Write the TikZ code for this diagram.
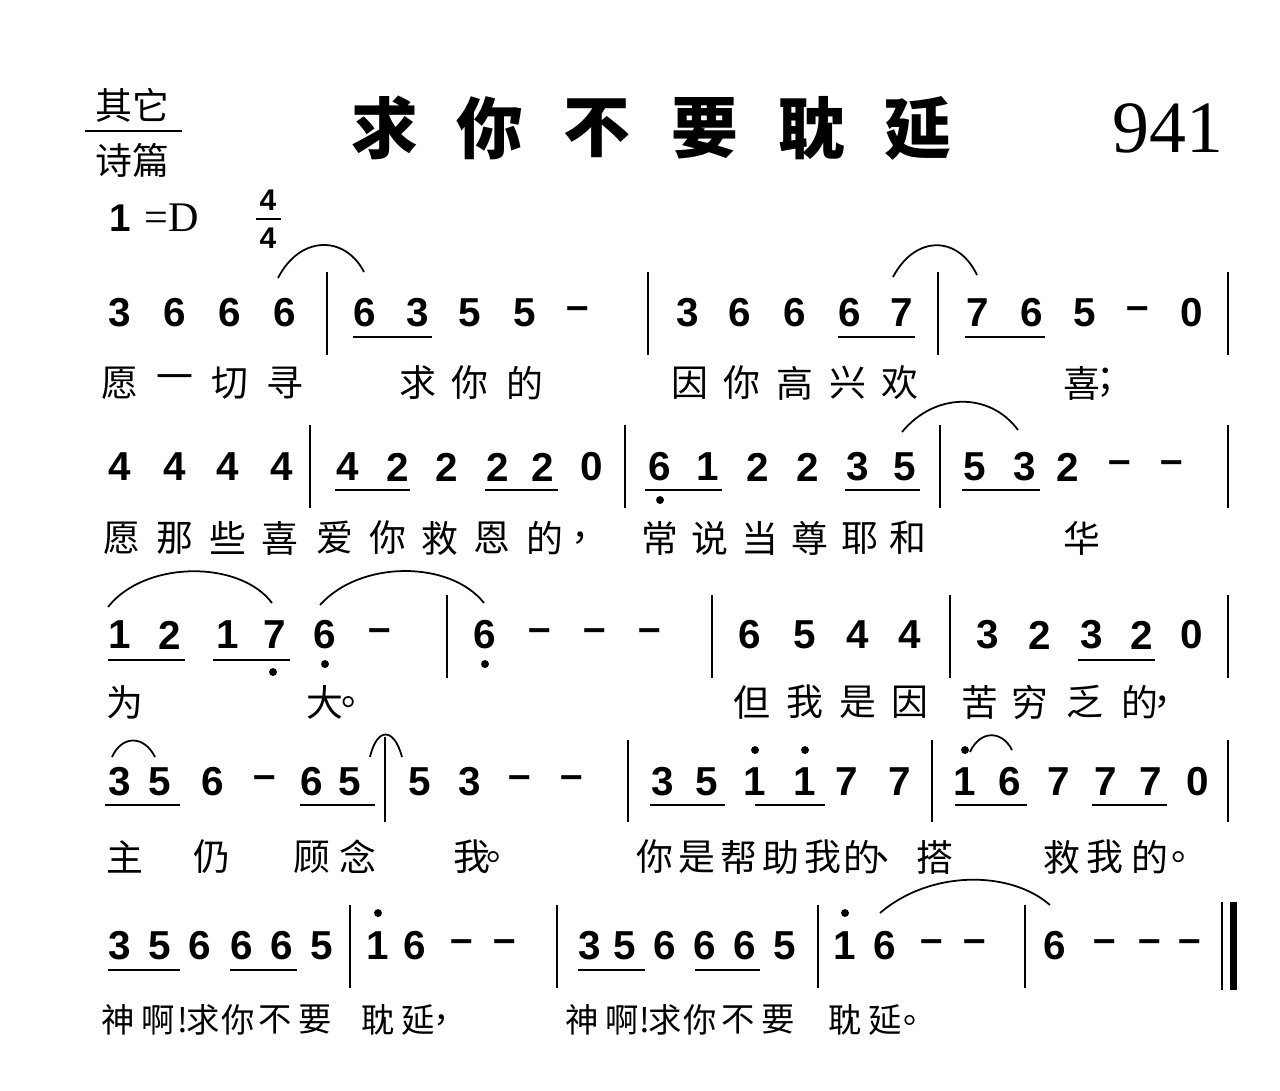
\documentclass[tikz,border=0pt]{standalone}
\usepackage{fontspec}
\setmainfont{Liberation Sans}
\newfontfamily\cjk{Noto Sans CJK SC}
\newfontfamily\numserif{Liberation Serif}
\tikzset{
  note/.style={inner sep=0pt, font=\fontsize{23}{23}\selectfont\bfseries},
  lyric/.style={inner sep=0pt, font=\cjk\fontsize{21}{21}\selectfont},
  bar/.style={line width=1.2pt},
  uline/.style={line width=1.2pt},
  slur/.style={line width=1pt},
  dot/.style={circle, fill, inner sep=0pt, minimum size=4.5pt}
}
\begin{document}
\begin{tikzpicture}[x=0.02cm, y=-0.02cm]
\useasboundingbox (0,0) rectangle (1280,1090);
% header
\node[lyric] (cat1) at (132,105) {其它};
\draw[line width=1pt] (85,131) -- (182,131);
\node[lyric] (cat2) at (132,160) {诗篇};
\foreach \x/\c in {385/求,490/你,597/不,705/要,812/耽,918/延}
  \node[inner sep=0pt, font=\cjk\fontsize{38}{38}\selectfont\bfseries] at (\x,128) {\c};
\node[inner sep=0pt, font=\numserif\fontsize{42}{42}\selectfont] (num) at (1168,128) {941};
\node[note, font=\fontsize{22}{22}\selectfont\bfseries] (key) at (120,218) {1};
\node[inner sep=0pt, font=\numserif\fontsize{24}{24}\selectfont] (keyD) at (172,218) {=D};
\node[note, font=\fontsize{17}{17}\selectfont\bfseries] (tnum) at (268,200) {4};
\draw[line width=1pt] (256,219) -- (281,219);
\node[note, font=\fontsize{17}{17}\selectfont\bfseries] (tden) at (268,238) {4};

% row 1
\foreach \x/\d in {120/3,175/6,230/6,285/6,365/6,418/3,470/5,525/5,578/–,688/3,740/6,795/6,850/6,902/7,978/7,1032/6,1085/5,1138/–,1192/0}
  \node[note] at (\x,313) {\d};
\foreach \x in {327,648,938,1228} \draw[bar] (\x,272) -- (\x,355);
\draw[uline] (353,337) -- (432,337);
\draw[uline] (838,337) -- (915,337);
\draw[uline] (965,337) -- (1045,337);
\draw[slur] (278,278) .. controls (300,235) and (345,235) .. (364,272);
\draw[slur] (893,277) .. controls (915,235) and (958,235) .. (977,275);
\foreach \x/\c in {120/愿,175/一,230/切,285/寻,418/求,470/你,525/的,690/因,742/你,795/高,848/兴,900/欢,1082/喜,1115/；}
  \node[lyric] at (\x,383) {\c};

% row 2
\foreach \x/\d in {120/4,175/4,228/4,282/4,348/4,398/2,447/2,498/2,543/2,592/0,660/6,708/1,758/2,808/2,858/3,905/5,975/5,1025/3,1068/2,1120/–,1172/–}
  \node[note] at (\x,467) {\d};
\foreach \x in {310,625,940,1228} \draw[bar] (\x,425) -- (\x,508);
\draw[uline] (335,490) -- (410,490);
\draw[uline] (485,490) -- (558,490);
\draw[uline] (645,490) -- (722,490);
\draw[uline] (845,490) -- (920,490);
\draw[uline] (962,490) -- (1040,490);
\node[dot] at (660,500) {};
\draw[slur] (902,432) .. controls (935,392) and (990,392) .. (1018,430);
\foreach \x/\c in {122/愿,175/那,228/些,280/喜,335/爱,388/你,440/救,492/恩,545/的,590/，,660/常,710/说,760/当,810/尊,860/耶,908/和,1082/华}
  \node[lyric] at (\x,538) {\c};

% row 3
\foreach \x/\d in {120/1,170/2,228/1,275/7,325/6,380/–,485/6,540/–,595/–,650/–,750/6,805/5,858/4,910/4,988/3,1040/2,1092/3,1142/2,1192/0}
  \node[note] at (\x,635) {\d};
\foreach \x in {447,712,950,1228} \draw[bar] (\x,595) -- (\x,678);
\draw[uline] (108,660) -- (185,660);
\draw[uline] (213,660) -- (290,660);
\draw[uline] (1078,660) -- (1155,660);
\node[dot] at (273,672) {};
\node[dot] at (325,664) {};
\node[dot] at (485,664) {};
\draw[slur] (108,607) .. controls (145,560) and (240,560) .. (272,603);
\draw[slur] (320,605) .. controls (360,560) and (450,560) .. (484,603);
\foreach \x/\c in {125/为,325/大,360/。,752/但,805/我,858/是,910/因,980/苦,1030/穷,1085/乏,1140/的,1172/，}
  \node[lyric] at (\x,702) {\c};

% row 4
\foreach \x/\d in {120/3,160/5,213/6,265/–,312/6,350/5,420/5,470/3,520/–,572/–,663/3,707/5,755/1,805/1,847/7,900/7,965/1,1010/6,1059/7,1106/7,1151/7,1198/0}
  \node[note] at (\x,782) {\d};
\draw[bar] (385,737) -- (385,822);
\foreach \x in {628,932,1228} \draw[bar] (\x,740) -- (\x,822);
\draw[uline] (105,805) -- (180,805);
\draw[uline] (300,805) -- (375,805);
\draw[uline] (650,805) -- (725,805);
\draw[uline] (755,805) -- (825,805);
\draw[uline] (955,805) -- (1027,805);
\draw[uline] (1092,805) -- (1167,805);
\foreach \x in {755,805,965} \node[dot] at (\x,750) {};
\draw[slur] (112,757) .. controls (122,735) and (144,735) .. (155,757);
\draw[slur] (370,757) .. controls (377,727) and (394,727) .. (402,757);
\draw[slur] (970,752) .. controls (980,730) and (1002,730) .. (1012,750);
\foreach \x/\c in {125/主,212/仍,312/顾,358/念,472/我,505/。,655/你,697/是,739/帮,781/助,823/我,862/的,894/、,935/搭,1062/救,1105/我,1150/的,1190/。}
  \node[lyric] at (\x,857) {\c};

% row 5
\foreach \x/\d in {120/3,160/5,200/6,242/6,282/6,322/5,378/1,415/6,462/–,505/–,590/3,625/5,665/6,705/6,745/6,785/5,845/1,885/6,932/–,975/–,1055/6,1105/–,1150/–,1190/–}
  \node[note] at (\x,946) {\d};
\foreach \x in {350,557,818,1025} \draw[bar] (\x,905) -- (\x,988);
\draw[line width=1pt] (1222,902) -- (1222,990);
\draw[line width=4pt] (1233,902) -- (1233,990);
\draw[uline] (108,970) -- (180,970);
\draw[uline] (230,970) -- (297,970);
\draw[uline] (578,970) -- (645,970);
\draw[uline] (695,970) -- (760,970);
\foreach \x in {378,845} \node[dot] at (\x,913) {};
\draw[slur] (880,913) .. controls (930,870) and (1010,870) .. (1050,905);
\foreach \x/\c in {118/神,158/啊,183/!,203/求,238/你,275/不,315/要,378/耽,418/延,450/，,582/神,622/啊,645/!,665/求,700/你,738/不,778/要,845/耽,885/延,920/。}
  \node[lyric, font=\cjk\fontsize{19}{19}\selectfont] at (\x,1020) {\c};
\end{tikzpicture}
\end{document}
